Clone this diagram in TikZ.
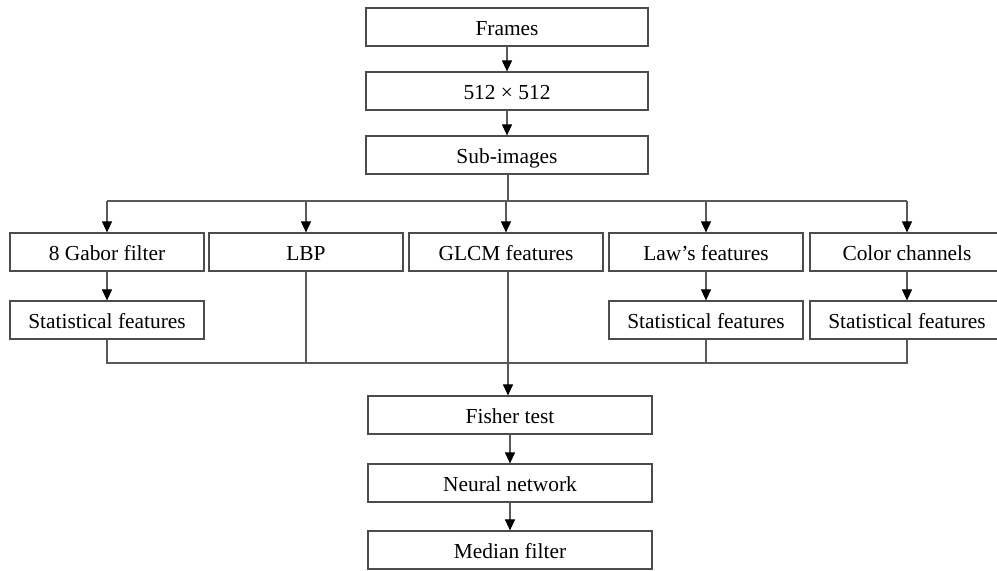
\documentclass[tikz,border=0pt]{standalone}
\usepackage{fontspec}
\setmainfont{Liberation Serif}
\usepackage{tikz}
\usetikzlibrary{arrows.meta,calc}

\begin{document}
\begin{tikzpicture}[
  x=0.5pt, y=-0.5pt,
  every node/.style={font=\fontsize{10.7}{12}\selectfont},
  wbox/.style={draw=black!70, line width=0.6pt, inner sep=0pt,
    text height=1.75ex, text depth=0pt,
    minimum width=141pt, minimum height=19pt},
  nbox/.style={wbox, minimum width=97pt},
  link/.style={draw=black!65, line width=0.55pt},
  arr/.style={link, -{Triangle[length=5.5pt,width=5pt,color=black]}},
]
\useasboundingbox (0,0) rectangle (997,570);

%% Top chain
\node[wbox] (frames) at (507, 27)  {Frames};
\node[wbox] (resize) at (507, 91)  {512 × 512};
\node[wbox] (subimg) at (507, 155) {Sub-images};

\draw[arr] (frames) -- (resize);
\draw[arr] (resize) -- (subimg);

%% Feature extractors (x centre / name / label)
\foreach \xc/\nm/\lab in {
  107/gabor/{8 Gabor filter},
  306/lbp/{LBP},
  506/glcm/{GLCM features},
  706/laws/{Law’s features},
  907/color/{Color channels}%
}{
  \node[nbox] (\nm) at (\xc, 252) {\lab};
}

%% Statistical features under three of them
\foreach \xc/\nm in {107/gabst, 706/lawsst, 907/colst}{
  \node[nbox] (\nm) at (\xc, 320) {Statistical features};
}
\draw[arr] (gabor) -- (gabst);
\draw[arr] (laws) -- (lawsst);
\draw[arr] (color) -- (colst);

%% Split bus
\coordinate (split) at (508, 201);
\draw[link] (subimg.south -| split) -- (split);
\draw[link] (gabor |- split) -- (color |- split);
\foreach \nm in {gabor,lbp,glcm,laws,color}{
  \draw[arr] (\nm |- split) -- (\nm);
}

%% Merge bus
\coordinate (merge) at (508, 363);
\draw[link] (gabst) -- (gabst |- merge) -- (colst |- merge) -- (colst);
\draw[link] (lbp) -- (lbp |- merge);
\draw[link] (glcm.south -| merge) -- (merge);
\draw[link] (lawsst) -- (lawsst |- merge);

%% Bottom chain
\node[wbox, minimum width=142pt] (fisher) at (510, 415) {Fisher test};
\node[wbox, minimum width=142pt] (neural) at (510, 483) {Neural network};
\node[wbox, minimum width=142pt] (median) at (510, 550) {Median filter};

\draw[arr] (merge) -- (merge |- fisher.north);
\draw[arr] (fisher) -- (neural);
\draw[arr] (neural) -- (median);

\end{tikzpicture}
\end{document}
